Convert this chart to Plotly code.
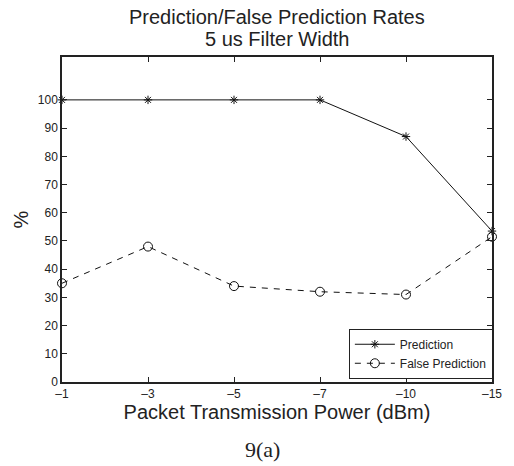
import plotly.graph_objects as go

categories = ["–1", "–3", "–5", "–7", "–10", "–15"]
prediction = [100, 100, 100, 100, 87, 53.5]
false_prediction = [35, 48, 34, 32, 31, 51.5]
y_ticks = [0, 10, 20, 30, 40, 50, 60, 70, 80, 90, 100]

xpos = list(range(len(categories)))

fig = go.Figure()
fig.add_trace(go.Scatter(
    x=xpos, y=prediction, mode="lines+markers", name="Prediction",
    line=dict(color="#111111", width=1),
    marker=dict(symbol="asterisk-open", size=7, color="#111111", line=dict(width=1, color="#111111")),
    cliponaxis=False,
))
fig.add_trace(go.Scatter(
    x=xpos, y=false_prediction, mode="lines+markers", name="False Prediction",
    line=dict(color="#111111", width=1, dash="6px,6px"),
    marker=dict(symbol="circle-open", size=9, color="#111111", line=dict(width=1, color="#111111")),
    cliponaxis=False,
))

font = "Liberation Sans, Arial, Helvetica, sans-serif"
fig.update_layout(
    width=514, height=466,
    margin=dict(l=62, r=12, t=57, b=84),
    paper_bgcolor="white", plot_bgcolor="white",
    font=dict(family=font, color="#222222", size=12),
    xaxis=dict(range=[0, 5], tickvals=xpos, ticktext=categories,
               showline=True, linecolor="#222222", linewidth=1.5, mirror="ticks",
               ticks="inside", ticklen=5, tickcolor="#222222", showgrid=False, zeroline=False,
               title=dict(text="Packet Transmission Power (dBm)", font=dict(size=20, family=font), standoff=2),
               tickfont=dict(size=12, color="#222222")),
    yaxis=dict(range=[0, 115.2], tickvals=y_ticks,
               showline=True, linecolor="#222222", linewidth=1.5, mirror="ticks",
               ticks="inside", ticklen=5, tickcolor="#222222", showgrid=False, zeroline=False,
               title=dict(text="%", font=dict(size=20, family=font), standoff=4),
               tickfont=dict(size=12, color="#222222")),
    legend=dict(x=1.002, y=0.01, xanchor="right", yanchor="bottom",
                bordercolor="#222222", borderwidth=1, bgcolor="white",
                font=dict(size=12, family=font, color="#222222"), tracegroupgap=0, itemwidth=40),
    showlegend=True,
)
fig.add_annotation(text="Prediction/False Prediction Rates", xref="paper", yref="paper",
                   x=0.5, y=(382 - 17) / 325, xanchor="center", yanchor="middle", showarrow=False,
                   font=dict(size=20, family=font, color="#222222"))
fig.add_annotation(text="5 us Filter Width", xref="paper", yref="paper",
                   x=0.5, y=(382 - 39) / 325, xanchor="center", yanchor="middle", showarrow=False,
                   font=dict(size=20, family=font, color="#222222"))
fig.add_annotation(text="9(a)", xref="paper", yref="paper", x=0.466, y=-(450 - 382) / 325,
                   xanchor="center", yanchor="middle", showarrow=False,
                   font=dict(size=22, family="Liberation Serif, Times New Roman, serif", color="#222222"))

fig.write_html("out.html")
